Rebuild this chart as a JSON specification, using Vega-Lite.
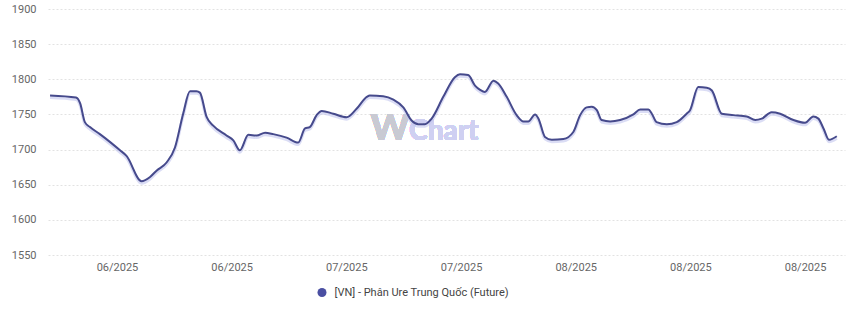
{
  "$schema": "https://vega.github.io/schema/vega-lite/v6.json",
  "width": 797,
  "height": 246,
  "autosize": "none",
  "padding": {"left": 48, "top": 9, "right": 14, "bottom": 71},
  "background": "#ffffff",
  "config": {
    "view": {"stroke": null},
    "font": "Roboto",
    "axis": {"labelFont": "Roboto", "labelFontSize": 11, "labelColor": "#666666", "domain": false, "ticks": false, "title": null},
    "legend": {"labelFont": "Roboto"}
  },
  "data": {"values": [
    {"date": "2025-05-28T20:00Z", "value": 1777},
    {"date": "2025-06-01T00:00Z", "value": 1774},
    {"date": "2025-06-01T12:00Z", "value": 1766},
    {"date": "2025-06-02T02:00Z", "value": 1739},
    {"date": "2025-06-02T17:00Z", "value": 1732},
    {"date": "2025-06-03T22:00Z", "value": 1722},
    {"date": "2025-06-06T09:00Z", "value": 1699},
    {"date": "2025-06-07T04:00Z", "value": 1691},
    {"date": "2025-06-09T00:00Z", "value": 1655},
    {"date": "2025-06-10T01:00Z", "value": 1661},
    {"date": "2025-06-10T20:00Z", "value": 1670},
    {"date": "2025-06-12T02:00Z", "value": 1682},
    {"date": "2025-06-13T02:00Z", "value": 1703},
    {"date": "2025-06-14T02:00Z", "value": 1751},
    {"date": "2025-06-14T22:00Z", "value": 1783},
    {"date": "2025-06-15T17:00Z", "value": 1783},
    {"date": "2025-06-16T03:00Z", "value": 1781},
    {"date": "2025-06-16T23:00Z", "value": 1746},
    {"date": "2025-06-17T18:00Z", "value": 1734},
    {"date": "2025-06-19T09:00Z", "value": 1720},
    {"date": "2025-06-20T05:00Z", "value": 1713},
    {"date": "2025-06-21T00:00Z", "value": 1699},
    {"date": "2025-06-22T01:00Z", "value": 1721},
    {"date": "2025-06-23T01:00Z", "value": 1720},
    {"date": "2025-06-24T02:00Z", "value": 1724},
    {"date": "2025-06-25T02:00Z", "value": 1722},
    {"date": "2025-06-26T17:00Z", "value": 1717},
    {"date": "2025-06-28T03:00Z", "value": 1710},
    {"date": "2025-06-28T23:00Z", "value": 1730},
    {"date": "2025-06-29T13:00Z", "value": 1732},
    {"date": "2025-06-30T09:00Z", "value": 1749},
    {"date": "2025-07-01T00:00Z", "value": 1755},
    {"date": "2025-07-02T10:00Z", "value": 1751},
    {"date": "2025-07-04T01:00Z", "value": 1746},
    {"date": "2025-07-05T06:00Z", "value": 1758},
    {"date": "2025-07-06T12:00Z", "value": 1775},
    {"date": "2025-07-06T21:00Z", "value": 1777},
    {"date": "2025-07-08T12:00Z", "value": 1776},
    {"date": "2025-07-09T18:00Z", "value": 1771},
    {"date": "2025-07-10T23:00Z", "value": 1760},
    {"date": "2025-07-12T00:00Z", "value": 1741},
    {"date": "2025-07-12T19:00Z", "value": 1736},
    {"date": "2025-07-13T14:00Z", "value": 1736},
    {"date": "2025-07-14T10:00Z", "value": 1744},
    {"date": "2025-07-15T20:00Z", "value": 1775},
    {"date": "2025-07-17T06:00Z", "value": 1803},
    {"date": "2025-07-17T21:00Z", "value": 1807},
    {"date": "2025-07-18T21:00Z", "value": 1806},
    {"date": "2025-07-19T17:00Z", "value": 1791},
    {"date": "2025-07-20T08:00Z", "value": 1785},
    {"date": "2025-07-20T22:00Z", "value": 1782},
    {"date": "2025-07-21T23:00Z", "value": 1798},
    {"date": "2025-07-22T13:00Z", "value": 1794},
    {"date": "2025-07-23T14:00Z", "value": 1775},
    {"date": "2025-07-24T19:00Z", "value": 1749},
    {"date": "2025-07-25T15:00Z", "value": 1740},
    {"date": "2025-07-26T05:00Z", "value": 1740},
    {"date": "2025-07-27T01:00Z", "value": 1750},
    {"date": "2025-07-27T11:00Z", "value": 1744},
    {"date": "2025-07-28T06:00Z", "value": 1718},
    {"date": "2025-07-29T02:00Z", "value": 1714},
    {"date": "2025-07-30T12:00Z", "value": 1715},
    {"date": "2025-07-31T17:00Z", "value": 1725},
    {"date": "2025-08-01T13:00Z", "value": 1749},
    {"date": "2025-08-02T08:00Z", "value": 1760},
    {"date": "2025-08-02T23:00Z", "value": 1761},
    {"date": "2025-08-03T14:00Z", "value": 1756},
    {"date": "2025-08-04T04:00Z", "value": 1742},
    {"date": "2025-08-05T05:00Z", "value": 1740},
    {"date": "2025-08-06T10:00Z", "value": 1742},
    {"date": "2025-08-08T01:00Z", "value": 1750},
    {"date": "2025-08-08T21:00Z", "value": 1757},
    {"date": "2025-08-09T21:00Z", "value": 1757},
    {"date": "2025-08-10T07:00Z", "value": 1751},
    {"date": "2025-08-10T21:00Z", "value": 1739},
    {"date": "2025-08-12T03:00Z", "value": 1736},
    {"date": "2025-08-13T08:00Z", "value": 1739},
    {"date": "2025-08-14T13:00Z", "value": 1751},
    {"date": "2025-08-14T23:00Z", "value": 1756},
    {"date": "2025-08-15T23:00Z", "value": 1789},
    {"date": "2025-08-17T00:00Z", "value": 1788},
    {"date": "2025-08-17T15:00Z", "value": 1784},
    {"date": "2025-08-18T20:00Z", "value": 1751},
    {"date": "2025-08-20T06:00Z", "value": 1749},
    {"date": "2025-08-21T21:00Z", "value": 1747},
    {"date": "2025-08-22T22:00Z", "value": 1742},
    {"date": "2025-08-23T17:00Z", "value": 1744},
    {"date": "2025-08-24T22:00Z", "value": 1753},
    {"date": "2025-08-25T23:00Z", "value": 1751},
    {"date": "2025-08-27T14:00Z", "value": 1742},
    {"date": "2025-08-29T00:00Z", "value": 1738},
    {"date": "2025-08-30T00:00Z", "value": 1747},
    {"date": "2025-08-30T15:00Z", "value": 1744},
    {"date": "2025-08-31T06:00Z", "value": 1730},
    {"date": "2025-08-31T22:00Z", "value": 1714},
    {"date": "2025-09-01T21:00Z", "value": 1719}
  ]},
  "encoding": {
    "x": {
      "field": "date",
      "type": "temporal",
      "scale": {
        "type": "utc",
        "domain": [
          {"year": 2025, "month": 5, "date": 28, "hours": 14, "utc": true},
          {"year": 2025, "month": 9, "date": 2, "hours": 21, "utc": true}
        ]
      },
      "axis": {
        "format": "%m/%Y",
        "grid": false,
        "labelPadding": 6,
        "values": [
          {"year": 2025, "month": 6, "date": 6, "utc": true},
          {"year": 2025, "month": 6, "date": 20, "utc": true},
          {"year": 2025, "month": 7, "date": 4, "utc": true},
          {"year": 2025, "month": 7, "date": 18, "utc": true},
          {"year": 2025, "month": 8, "date": 1, "utc": true},
          {"year": 2025, "month": 8, "date": 15, "utc": true},
          {"year": 2025, "month": 8, "date": 29, "utc": true}
        ]
      }
    },
    "y": {
      "field": "value",
      "type": "quantitative",
      "scale": {"domain": [1550, 1900], "nice": false, "zero": false},
      "axis": {
        "values": [1550, 1600, 1650, 1700, 1750, 1800, 1850, 1900],
        "format": "d",
        "grid": true,
        "gridColor": "#e2e2e2",
        "gridDash": [2, 2],
        "gridWidth": 1,
        "labelPadding": 12
      }
    }
  },
  "layer": [
    {
      "mark": {"type": "text", "text": "W", "font": "Lato", "fontWeight": "bold", "fontSize": 37, "color": "#c9cad3", "align": "center", "baseline": "alphabetic"},
      "encoding": {
        "x": {"datum": {"year": 2025, "month": 7, "date": 9, "hours": 8, "utc": true}, "type": "temporal"},
        "y": {"datum": 1713, "type": "quantitative"}
      }
    },
    {
      "mark": {"type": "text", "text": "Chart", "font": "Lato", "fontWeight": "bold", "fontSize": 28, "color": "#cfd0f2", "align": "left", "baseline": "alphabetic"},
      "encoding": {
        "x": {"datum": {"year": 2025, "month": 7, "date": 11, "hours": 16, "utc": true}, "type": "temporal"},
        "y": {"datum": 1713, "type": "quantitative"}
      }
    },
    {
      "mark": {"type": "line", "interpolate": "monotone", "yOffset": 2, "strokeWidth": 3, "color": "#c3c6ee", "opacity": 0.6},
      "encoding": {}
    },
    {
      "mark": {"type": "line", "interpolate": "monotone", "strokeWidth": 2},
      "encoding": {
        "color": {
          "datum": "[VN] - Phân Ure Trung Quốc (Future)",
          "type": "nominal",
          "scale": {"range": ["#464a8c"]},
          "legend": {
            "title": null,
            "orient": "none",
            "legendX": 268.5,
            "legendY": 278,
            "padding": 0,
            "symbolType": "circle",
            "symbolSize": 81,
            "symbolFillColor": "#4a4fa2",
            "symbolStrokeColor": "#4a4fa2",
            "symbolStrokeWidth": 0,
            "symbolOffset": 0,
            "labelOffset": 7,
            "labelFontSize": 11,
            "labelLimit": 0,
            "labelColor": "#444444"
          }
        }
      }
    }
  ]
}
